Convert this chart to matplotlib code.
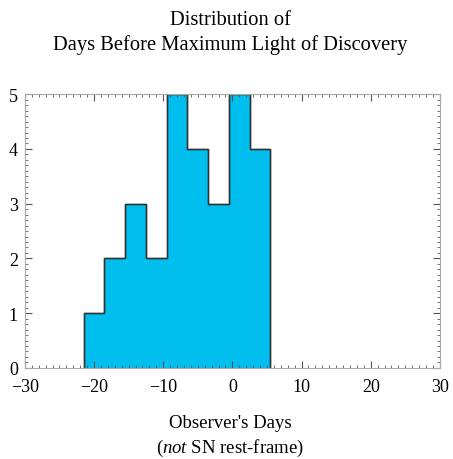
import matplotlib.pyplot as plt
from matplotlib.ticker import MultipleLocator, FuncFormatter

# histogram of days before maximum light at discovery (3-day bins)
bin_edges = [-21.5, -18.5, -15.5, -12.5, -9.5, -6.5, -3.5, -0.5, 2.5, 5.5]
counts = [1, 2, 3, 2, 5, 4, 3, 5, 4]

plt.rcParams['font.family'] = ['Liberation Serif', 'DejaVu Serif']
plt.rcParams['mathtext.fontset'] = 'custom'
plt.rcParams['mathtext.rm'] = 'Liberation Serif'
plt.rcParams['mathtext.it'] = 'Liberation Serif:italic'

fig = plt.figure(figsize=(4.53, 4.60), dpi=100)
ax = fig.add_axes([0.055, 0.198, 0.916, 0.595])

ax.stairs(counts, bin_edges, fill=True, facecolor='#00bfef',
          edgecolor='#333333', linewidth=1.0, baseline=0)
ax.stairs(counts, bin_edges, fill=False, edgecolor='#333333', linewidth=1.0, baseline=0)

ax.set_xlim(-30, 30)
ax.set_ylim(0, 5)

ax.xaxis.set_major_locator(MultipleLocator(10))
ax.xaxis.set_minor_locator(MultipleLocator(1))
ax.yaxis.set_major_locator(MultipleLocator(1))
ax.yaxis.set_minor_locator(MultipleLocator(0.1))
ax.xaxis.set_major_formatter(FuncFormatter(lambda v, p: f"{v:.0f}".replace('-', '\u2212')))

ax.tick_params(which='both', direction='in', top=True, right=True,
               color='#555555', labelsize=13)
ax.tick_params(which='major', length=5, width=0.8)
ax.tick_params(which='minor', length=2.5, width=0.6)
ax.tick_params(axis='x', pad=7)
ax.tick_params(axis='y', pad=5)
for s in ax.spines.values():
    s.set_color('#aaaaaa')
    s.set_linewidth(0.8)

# nudge the y labels up a little so "0" clears the x labels
for lbl in ax.get_yticklabels():
    lbl.set_verticalalignment('center_baseline')

fig.text(0.508, 0.955, 'Distribution of', ha='center', va='center', fontsize=14.8)
fig.text(0.508, 0.902, 'Days Before Maximum Light of Discovery', ha='center',
         va='center', fontsize=14.8)

fig.text(0.508, 0.079, "Observer's Days", ha='center', va='center', fontsize=13.5)
fig.text(0.508, 0.025, r"($\mathit{not}$ SN rest-frame)", ha='center', va='center',
         fontsize=13.5)

fig.savefig('out.png', dpi=100)
